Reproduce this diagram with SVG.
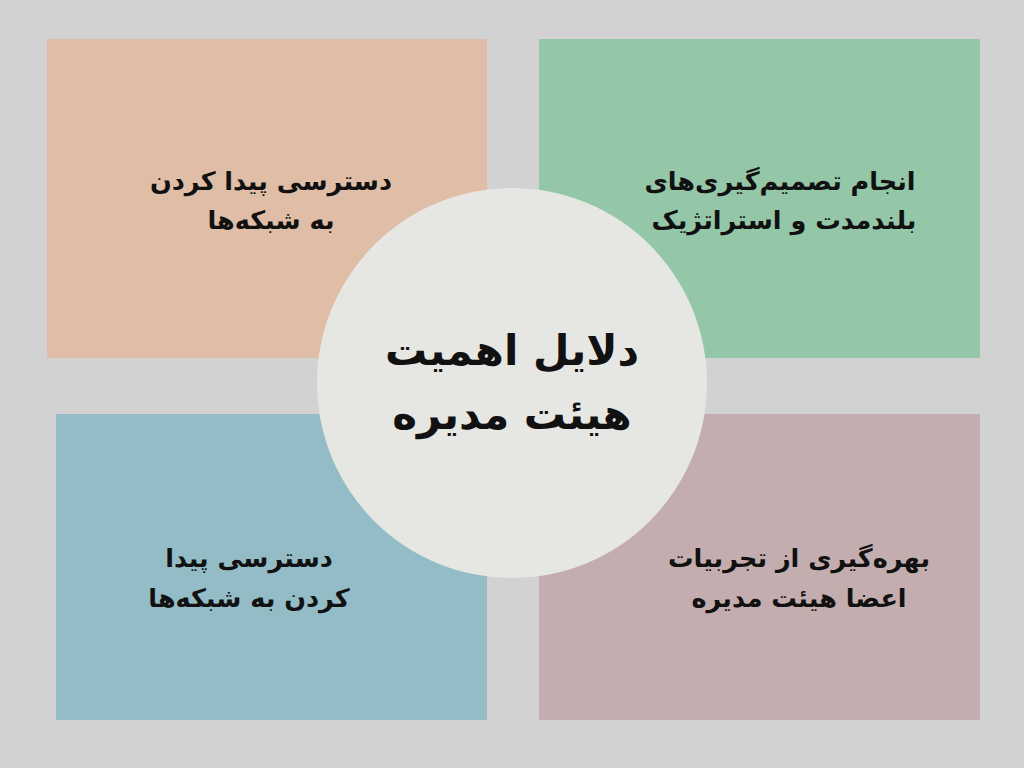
<svg xmlns="http://www.w3.org/2000/svg" width="1024" height="768" viewBox="0 0 1024 768">
<style>
.t{font-family:"DejaVu Sans","Noto Sans",sans-serif;font-weight:bold;fill:#111;text-anchor:middle;direction:rtl}
.s{font-size:25.5px}
.c{font-size:42px}
</style>
<rect x="0" y="0" width="1024" height="768" fill="#d2d2d2"/>
<g id="node-tl">
<rect x="47" y="39" width="440" height="319" fill="#e0bda7"/>
<text class="t s" x="271" y="190">دسترسی پیدا کردن</text>
<text class="t s" x="271" y="229">به شبکه‌ها</text>
</g>
<g id="node-tr">
<rect x="539" y="39" width="441" height="319" fill="#93c7a7"/>
<text class="t s" x="780" y="190">انجام تصمیم‌گیری‌های</text>
<text class="t s" x="784" y="229">بلندمدت و استراتژیک</text>
</g>
<g id="node-bl">
<rect x="56" y="414" width="431" height="306" fill="#93bcc6"/>
<text class="t s" x="249" y="567">دسترسی پیدا</text>
<text class="t s" x="249" y="607">کردن به شبکه‌ها</text>
</g>
<g id="node-br">
<rect x="539" y="414" width="441" height="306" fill="#c4adaf"/>
<text class="t s" x="799" y="567">بهره‌گیری از تجربیات</text>
<text class="t s" x="799" y="607">اعضا هیئت مدیره</text>
</g>
<g id="node-center">
<circle cx="512" cy="383" r="195" fill="#e6e7e3"/>
<text class="t c" x="512" y="365">دلایل اهمیت</text>
<text class="t c" x="512" y="429">هیئت مدیره</text>
</g>
<g id="connectors"></g>
</svg>
